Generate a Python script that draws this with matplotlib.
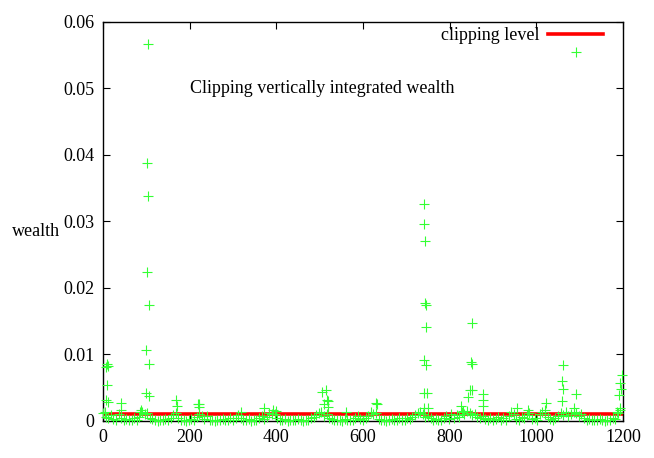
import matplotlib.pyplot as plt
import numpy as np
from matplotlib.ticker import FuncFormatter

plt.rcParams['font.family'] = 'Liberation Serif'
plt.rcParams['font.size'] = 13

# baseline wealth, one sample every 6 columns
base_x = np.arange(0, 1200, 6)
base_y = [
    0.0012, 0.0006, 0.0004, 0.0009, 0.0003, 0.0002, 0.0011, 0.0004, 0.0001, 0.0003,
    0.0002, 0.0001, 0.0004, 0.0002, 0.0006, 0.0013, 0.0010, 0.0012, 0.0005, 0.0003,
    0.0001, 0.0000, 0.0002, 0.0001, 0.0003, 0.0002, 0.0005, 0.0009, 0.0012, 0.0004,
    0.0002, 0.0001, 0.0000, 0.0002, 0.0003, 0.0001, 0.0006, 0.0011, 0.0008, 0.0003,
    0.0007, 0.0002, 0.0001, 0.0000, 0.0002, 0.0001, 0.0003, 0.0002, 0.0001, 0.0004,
    0.0002, 0.0005, 0.0009, 0.0004, 0.0002, 0.0001, 0.0003, 0.0000, 0.0002, 0.0001,
    0.0004, 0.0008, 0.0003, 0.0006, 0.0012, 0.0010, 0.0011, 0.0005, 0.0002, 0.0001,
    0.0003, 0.0000, 0.0001, 0.0002, 0.0001, 0.0003, 0.0001, 0.0000, 0.0002, 0.0001,
    0.0004, 0.0006, 0.0009, 0.0012, 0.0014, 0.0008, 0.0011, 0.0005, 0.0003, 0.0002,
    0.0001, 0.0002, 0.0000, 0.0003, 0.0001, 0.0002, 0.0001, 0.0004, 0.0007, 0.0003,
    0.0002, 0.0004, 0.0008, 0.0013, 0.0010, 0.0012, 0.0003, 0.0001, 0.0002, 0.0000,
    0.0001, 0.0003, 0.0001, 0.0002, 0.0004, 0.0002, 0.0001, 0.0005, 0.0003, 0.0006,
    0.0009, 0.0012, 0.0014, 0.0010, 0.0006, 0.0008, 0.0004, 0.0002, 0.0003, 0.0001,
    0.0002, 0.0004, 0.0007, 0.0003, 0.0011, 0.0005, 0.0009, 0.0006, 0.0013, 0.0010,
    0.0015, 0.0012, 0.0009, 0.0011, 0.0006, 0.0004, 0.0008, 0.0003, 0.0002, 0.0005,
    0.0001, 0.0003, 0.0006, 0.0002, 0.0004, 0.0001, 0.0008, 0.0013, 0.0010, 0.0003,
    0.0002, 0.0006, 0.0004, 0.0009, 0.0012, 0.0003, 0.0005, 0.0002, 0.0010, 0.0014,
    0.0011, 0.0006, 0.0003, 0.0002, 0.0005, 0.0008, 0.0012, 0.0009, 0.0013, 0.0007,
    0.0010, 0.0014, 0.0012, 0.0008, 0.0011, 0.0004, 0.0002, 0.0003, 0.0001, 0.0002,
    0.0001, 0.0003, 0.0002, 0.0000, 0.0002, 0.0001, 0.0004, 0.0003, 0.0012, 0.0016,
]

# isolated peaks
spike_x = [104, 101, 104, 101, 106, 99, 106, 99, 106,
           9, 11, 8, 9, 6, 12, 4,
           42, 41, 88, 85,
           169, 171, 219, 222, 221,
           318, 372, 392, 400,
           506, 514, 516, 510, 520, 519,
           629, 633, 560,
           741, 741, 744, 743, 746, 745, 740, 745, 740, 748, 741, 750,
           851, 849, 851, 851, 846, 843, 876, 876, 878, 826, 830,
           1092, 1061, 1059, 1061, 1059, 1091, 1087, 1023, 1020, 955, 980,
           1197, 1193, 1195, 1190, 1193, 1186]
spike_y = [0.0567, 0.0388, 0.0338, 0.0224, 0.0174, 0.0107, 0.0086, 0.0042, 0.0038,
           0.0085, 0.0083, 0.0081, 0.0054, 0.0032, 0.0028, 0.0014,
           0.0027, 0.0017, 0.0017, 0.0013,
           0.0031, 0.0022, 0.0026, 0.0025, 0.0021,
           0.0013, 0.0019, 0.0016, 0.0015,
           0.0044, 0.0047, 0.0032, 0.0025, 0.0030, 0.0021,
           0.0027, 0.0025, 0.0014,
           0.0327, 0.0296, 0.0271, 0.0177, 0.0175, 0.0141, 0.0091, 0.0084, 0.0042, 0.0042, 0.0020, 0.0019,
           0.0147, 0.0089, 0.0086, 0.0047, 0.0046, 0.0036, 0.0041, 0.0032, 0.0022, 0.0023, 0.0015,
           0.0555, 0.0084, 0.0060, 0.0048, 0.0030, 0.0040, 0.0020, 0.0027, 0.0016, 0.0020, 0.0016,
           0.0069, 0.0057, 0.0048, 0.0039, 0.0020, 0.0014]

clip_level = 0.001

fig = plt.figure(figsize=(6.54, 4.58), dpi=100)
ax = fig.add_axes([0.1575, 0.0808, 0.795, 0.8712])

ax.axhline(clip_level, color='red', lw=2.6, label='clipping level', zorder=2)
ax.plot(base_x, base_y, '+', color='#33ff33', ms=6.5, mew=0.8, clip_on=False, zorder=3)
ax.plot(spike_x, spike_y, '+', color='#33ff33', ms=6.5, mew=0.8, clip_on=False, zorder=3)

ax.set_xlim(0, 1200)
ax.set_ylim(0, 0.06)
ax.set_xticks(range(0, 1201, 200))
ax.set_yticks(np.arange(0, 0.061, 0.01))
ax.yaxis.set_major_formatter(FuncFormatter(lambda v, p: '%g' % round(v, 4)))
ax.tick_params(direction='in', top=True, right=True, length=5, width=0.8, pad=6)
for s in ax.spines.values():
    s.set_linewidth(1)

ax.set_ylabel('wealth', rotation=0, va='center', ha='center')
ax.yaxis.set_label_coords(-0.128, 0.476)
ax.text(200, 0.05, 'Clipping vertically integrated wealth', va='center', ha='left')

ax.legend(loc='center right', bbox_to_anchor=(0.9615, 0.965), frameon=False,
          markerfirst=False, handlelength=3.05, borderaxespad=0, borderpad=0,
          handletextpad=0.45)

fig.savefig('out.png', dpi=100)
